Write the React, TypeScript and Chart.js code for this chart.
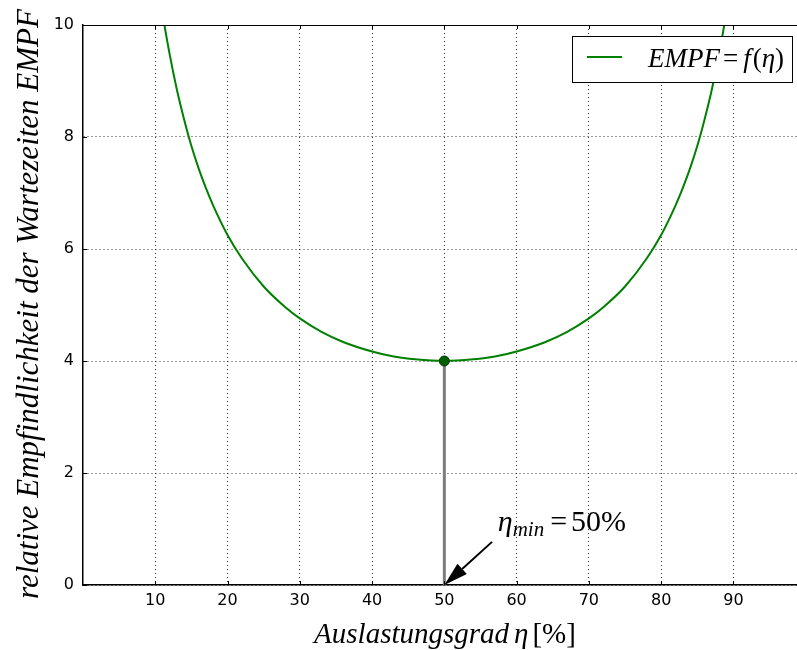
import React, { useEffect, useRef } from "react";
import { Chart, registerables } from "chart.js";

Chart.register(...registerables);

// Auslastungsgrad η in %
const etaPercent = [10, 11, 12, 13, 14, 15, 16, 17, 18, 20, 22, 25, 28, 30, 33, 36, 40, 43, 46, 50, 54, 57, 60, 64, 67, 70, 72, 75, 78, 80, 82, 83, 84, 85, 86, 87, 88, 89, 90];
// relative Empfindlichkeit EMPF
const empfValues = [11.11, 10.21, 9.47, 8.84, 8.31, 7.84, 7.44, 7.09, 6.78, 6.25, 5.83, 5.33, 4.96, 4.76, 4.52, 4.34, 4.17, 4.08, 4.03, 4.0, 4.03, 4.08, 4.17, 4.34, 4.52, 4.76, 4.96, 5.33, 5.83, 6.25, 6.78, 7.09, 7.44, 7.84, 8.31, 8.84, 9.47, 10.21, 11.11];

const xTickValues = [10, 20, 30, 40, 50, 60, 70, 80, 90];
const yTickValues = [0, 2, 4, 6, 8, 10];
const xLimits = [0, 98.8];
const yLimits = [0, 10];

const minPoint = { x: 50, y: 4 };
const arrowTip = { x: 50, y: 0 };
const arrowTail = { x: 56.6, y: 0.77 };
const annotationTextPos = { x: 57.4, y: 0.97 };

const GREEN = "#008000";
const SERIF = '"Liberation Serif", "DejaVu Serif", serif';
const SANS = '"DejaVu Sans", sans-serif';

type Seg = { text: string; font: string; dy?: number; gap?: number };

function drawRich(ctx: CanvasRenderingContext2D, segs: Seg[], x: number, y: number, align: "left" | "center") {
  let total = 0;
  const widths: number[] = [];
  for (const s of segs) {
    ctx.font = s.font;
    const w = ctx.measureText(s.text).width;
    widths.push(w);
    total += w + (s.gap || 0);
  }
  let cx = align === "center" ? x - total / 2 : x;
  ctx.textAlign = "left";
  ctx.textBaseline = "alphabetic";
  segs.forEach((s, i) => {
    ctx.font = s.font;
    ctx.fillText(s.text, cx, y + (s.dy || 0));
    cx += widths[i] + (s.gap || 0);
  });
}

const overlayPlugin = {
  id: "overlay",
  afterDraw(chart: any) {
    const { ctx, chartArea: a } = chart;
    const xs = chart.scales.x;
    const ys = chart.scales.y;
    ctx.save();
    ctx.fillStyle = "#000";
    ctx.strokeStyle = "#000";
    ctx.lineWidth = 1.2;
    // top frame line
    ctx.beginPath();
    ctx.moveTo(a.left, Math.round(a.top) + 0.5);
    ctx.lineTo(a.right, Math.round(a.top) + 0.5);
    ctx.stroke();
    // inward ticks
    const tl = 4;
    ctx.lineWidth = 1;
    ctx.beginPath();
    for (const v of xTickValues) {
      const px = Math.round(xs.getPixelForValue(v)) + 0.5;
      ctx.moveTo(px, a.bottom);
      ctx.lineTo(px, a.bottom - tl);
      ctx.moveTo(px, a.top);
      ctx.lineTo(px, a.top + tl);
    }
    for (const v of yTickValues) {
      const py = Math.round(ys.getPixelForValue(v)) + 0.5;
      ctx.moveTo(a.left, py);
      ctx.lineTo(a.left + tl, py);
    }
    ctx.stroke();

    // arrow
    const tx = xs.getPixelForValue(arrowTip.x);
    const ty = ys.getPixelForValue(arrowTip.y);
    const sx = xs.getPixelForValue(arrowTail.x);
    const sy = ys.getPixelForValue(arrowTail.y);
    const ang = Math.atan2(ty - sy, tx - sx);
    const headLen = 24;
    const headW = 7;
    const bx = tx - headLen * Math.cos(ang);
    const by = ty - headLen * Math.sin(ang);
    ctx.lineWidth = 2;
    ctx.beginPath();
    ctx.moveTo(sx, sy);
    ctx.lineTo(bx, by);
    ctx.stroke();
    ctx.beginPath();
    ctx.moveTo(tx, ty);
    ctx.lineTo(bx + headW * Math.sin(ang), by - headW * Math.cos(ang));
    ctx.lineTo(bx - headW * Math.sin(ang), by + headW * Math.cos(ang));
    ctx.closePath();
    ctx.fill();

    // annotation text
    const ax = xs.getPixelForValue(annotationTextPos.x);
    const ay = ys.getPixelForValue(annotationTextPos.y);
    drawRich(
      ctx,
      [
        { text: "η", font: `italic 30px ${SERIF}` },
        { text: "min", font: `italic 21px ${SERIF}`, dy: 5, gap: 6 },
        { text: "=", font: `30px ${SERIF}`, gap: 4 },
        { text: "50%", font: `30px ${SERIF}` },
      ],
      ax,
      ay,
      "left"
    );

    // legend
    const lx = 572.5, ly = 36.5, lw = 220, lh = 46;
    ctx.fillStyle = "#fff";
    ctx.fillRect(lx, ly, lw, lh);
    ctx.strokeStyle = "#000";
    ctx.lineWidth = 1;
    ctx.strokeRect(lx, ly, lw, lh);
    ctx.strokeStyle = GREEN;
    ctx.lineWidth = 2;
    ctx.beginPath();
    ctx.moveTo(587, 57);
    ctx.lineTo(622, 57);
    ctx.stroke();
    ctx.fillStyle = "#000";
    drawRich(
      ctx,
      [
        { text: "EMPF", font: `italic 27px ${SERIF}`, gap: 3 },
        { text: "=", font: `27px ${SERIF}`, gap: 5 },
        { text: "f", font: `italic 27px ${SERIF}`, gap: 2 },
        { text: "(", font: `27px ${SERIF}` },
        { text: "η", font: `italic 27px ${SERIF}` },
        { text: ")", font: `27px ${SERIF}` },
      ],
      648,
      67,
      "left"
    );

    // x axis title
    drawRich(
      ctx,
      [
        { text: "Auslastungsgrad", font: `italic 29px ${SERIF}`, gap: 5 },
        { text: "η", font: `italic 29px ${SERIF}`, gap: 4 },
        { text: "[%]", font: `29px ${SERIF}` },
      ],
      445,
      643,
      "center"
    );

    // y axis title
    ctx.translate(38, 304);
    ctx.rotate(-Math.PI / 2);
    drawRich(
      ctx,
      [{ text: "relative Empfindlichkeit der Wartezeiten EMPF", font: `italic 31px ${SERIF}` }],
      0,
      0,
      "center"
    );
    ctx.restore();
  },
};

export default function App() {
  const ref = useRef<HTMLCanvasElement | null>(null);
  useEffect(() => {
    if (!ref.current) return;
    const curve = etaPercent.map((v, i) => ({ x: v, y: empfValues[i] }));
    const chart = new Chart(ref.current, {
      type: "scatter",
      data: {
        datasets: [
          {
            label: "min",
            data: [minPoint],
            backgroundColor: "#006000",
            borderColor: "#003a00",
            borderWidth: 1,
            pointRadius: 5,
            showLine: false,
          },
          {
            label: "EMPF",
            data: curve,
            borderColor: GREEN,
            borderWidth: 2,
            pointRadius: 0,
            showLine: true,
            cubicInterpolationMode: "monotone",
          },
          {
            label: "vline",
            data: [
              { x: minPoint.x, y: 0 },
              { x: minPoint.x, y: minPoint.y },
            ],
            borderColor: "#7c7c7c",
            borderWidth: 3,
            pointRadius: 0,
            showLine: true,
          },
        ],
      },
      options: {
        animation: false,
        responsive: false,
        events: [],
        layout: { autoPadding: false, padding: { left: 0, top: 25, right: 0, bottom: 0 } },
        plugins: { legend: { display: false }, tooltip: { enabled: false } },
        scales: {
          x: {
            type: "linear",
            min: xLimits[0],
            max: xLimits[1],
            afterBuildTicks: (s: any) => {
              s.ticks = xTickValues.map((v) => ({ value: v }));
            },
            afterFit: (s: any) => {
              s.height = 65;
              s.paddingLeft = 0;
              s.paddingRight = 0;
            },
            grid: { color: "rgba(0,0,0,0.8)", lineWidth: 1, drawTicks: false },
            border: { display: true, color: "#000", width: 1.5, dash: [1, 3] },
            ticks: { color: "#000", font: { family: SANS, size: 16 }, padding: 6, maxRotation: 0 },
          },
          y: {
            type: "linear",
            min: yLimits[0],
            max: yLimits[1],
            afterBuildTicks: (s: any) => {
              s.ticks = yTickValues.map((v) => ({ value: v }));
            },
            afterFit: (s: any) => {
              s.width = 83;
              s.paddingTop = 0;
              s.paddingBottom = 0;
            },
            grid: { color: "rgba(0,0,0,0.8)", lineWidth: 1, drawTicks: false },
            border: { display: true, color: "#000", width: 1.5, dash: [1, 3] },
            ticks: { color: "#000", font: { family: SANS, size: 16 }, padding: 9 },
          },
        },
      },
      plugins: [overlayPlugin],
    } as any);
    return () => chart.destroy();
  }, []);
  return (
    <div style={{ position: "absolute", left: 0, top: 0, width: 797, height: 650, background: "#fff" }}>
      <canvas ref={ref} width={797} height={650} style={{ display: "block" }} />
    </div>
  );
}
